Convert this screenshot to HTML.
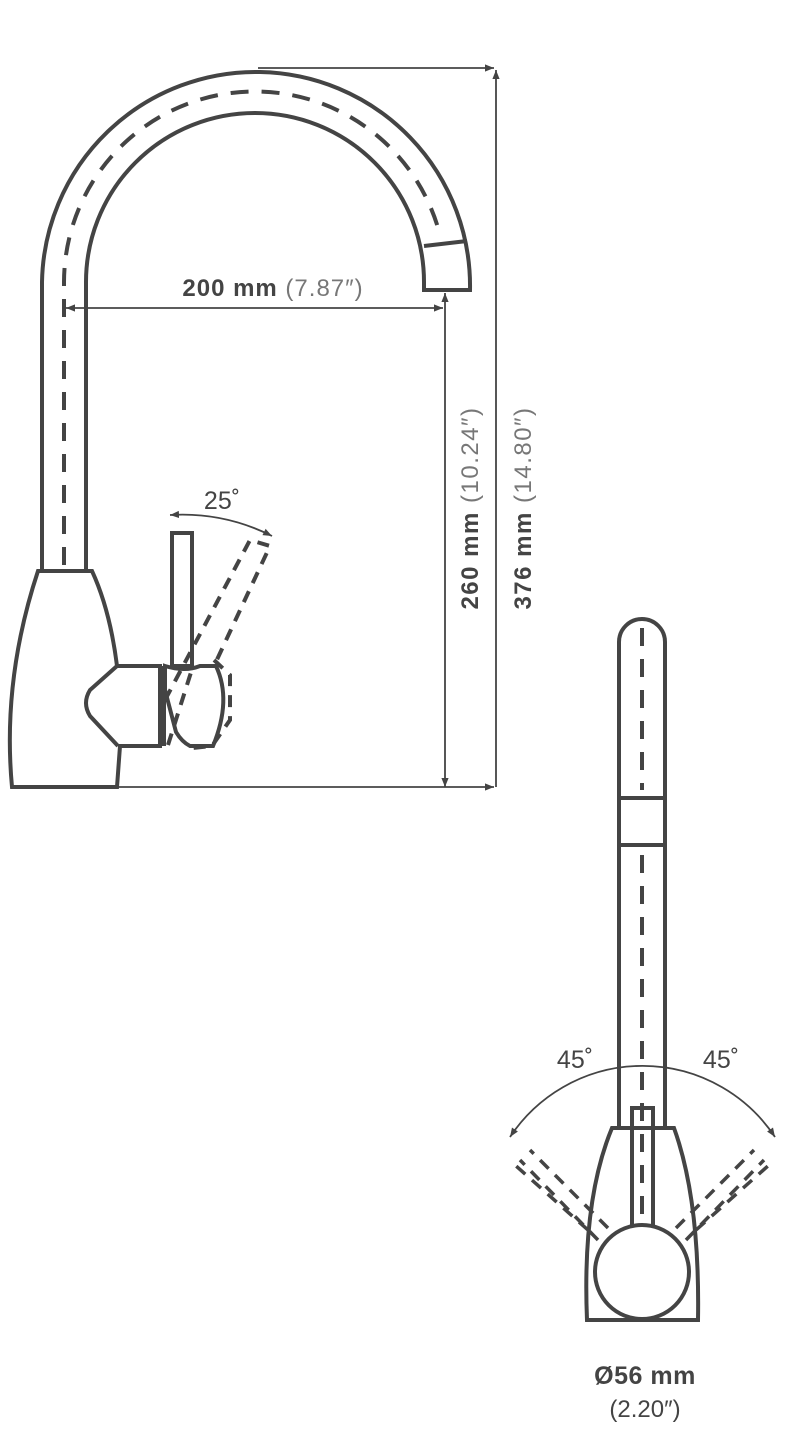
<!DOCTYPE html>
<html><head><meta charset="utf-8"><style>
html,body{margin:0;padding:0;background:#fff;}
svg{display:block;}
text{font-family:"Liberation Sans",sans-serif;fill:#444;}
</style></head><body>
<svg width="800" height="1436" viewBox="0 0 800 1436" xmlns="http://www.w3.org/2000/svg">
<defs>
<marker id="a" viewBox="0 0 10 10" refX="10" refY="5" markerWidth="9" markerHeight="9" orient="auto-start-reverse" markerUnits="userSpaceOnUse"><path d="M0,1 L10,5 L0,9 z" fill="#444"/></marker>
</defs>
<g fill="none" stroke="#444" stroke-width="4">
<path d="M42,570 L42,282 A214,214 0 0 1 470,290 L424,290 L424,282 A169,169 0 0 0 86,282 L86,570"/>
<line x1="424" y1="246" x2="467" y2="241"/>
<path d="M64,565 L64,282 A191,191 0 0 1 440,235" stroke-dasharray="18,13"/>
<path d="M38,571 L92,571 Q110,610 117,666 L160,666 L160,746 L120,746 L117,787 L12,787 Q2,680 38,571 Z"/>
<path d="M117,666 L90,690 Q82,703 90,716 L118,746"/>
<rect x="172" y="533" width="20" height="133"/>
<path d="M165,666 Q185,672 200,666 L216,666 Q232,700 213,746 L190,746 Q182,742 176,732 L165,690 Z"/>
<path d="M164,666 L164,746" />
<g stroke-dasharray="12,9">
<path d="M168,745 L193,666"/>
<path d="M165,700 L250,540 L270,546 L214,666"/>
<path d="M214,660 L230,675 L230,720 L212,746 L192,748"/>
</g>
</g>
<g stroke="#444" stroke-width="1.8" fill="none">
<line x1="258" y1="68" x2="494" y2="68" marker-end="url(#a)"/>
<line x1="496" y1="787" x2="496" y2="70" marker-end="url(#a)"/>
<line x1="118" y1="787" x2="494" y2="787" marker-end="url(#a)"/>
<line x1="445" y1="787" x2="445" y2="293" marker-end="url(#a)" marker-start="url(#a)"/>
<line x1="66" y1="308" x2="443" y2="308" marker-end="url(#a)" marker-start="url(#a)"/>
<path d="M170,515 A200,200 0 0 1 272,536" marker-end="url(#a)" marker-start="url(#a)"/>
<path d="M510,1137 A159,159 0 0 1 775,1137" marker-end="url(#a)" marker-start="url(#a)"/>
</g>
<text x="273" y="296" font-size="24" letter-spacing="1" text-anchor="middle"><tspan font-weight="bold">200 mm</tspan><tspan fill="#777" font-weight="normal"> (7.87″)</tspan></text>
<text transform="translate(478,508) rotate(-90)" font-size="24" letter-spacing="1.5" text-anchor="middle"><tspan font-weight="bold">260 mm</tspan><tspan fill="#777"> (10.24″)</tspan></text>
<text transform="translate(531,508) rotate(-90)" font-size="24" letter-spacing="1.5" text-anchor="middle"><tspan font-weight="bold">376 mm</tspan><tspan fill="#777"> (14.80″)</tspan></text>
<text x="222" y="509" font-size="25" text-anchor="middle">25˚</text>
<text x="575" y="1068" font-size="25" text-anchor="middle">45˚</text>
<text x="721" y="1068" font-size="25" text-anchor="middle">45˚</text>
<g fill="none" stroke="#444" stroke-width="4">
<path d="M619,1128 L619,642 A23,23 0 0 1 665,642 L665,1128"/>
<line x1="619" y1="798" x2="665" y2="798"/>
<line x1="619" y1="845" x2="665" y2="845"/>
<line x1="642" y1="628" x2="642" y2="790" stroke-dasharray="18,13"/>
<line x1="642" y1="855" x2="642" y2="1220" stroke-dasharray="18,13"/>
<path d="M612,1128 L674,1128 Q700,1200 698,1320 L587,1320 Q582,1200 612,1128 Z"/>
<rect x="632" y="1108" width="21" height="120"/>
<circle cx="642" cy="1272" r="47" fill="#fff"/>
<g stroke-dasharray="12,9" stroke-width="3.5">
<line x1="598" y1="1240" x2="520" y2="1160"/>
<line x1="608" y1="1228" x2="530" y2="1150"/>
<line x1="588" y1="1230" x2="515" y2="1165"/>
<line x1="686" y1="1240" x2="764" y2="1160"/>
<line x1="676" y1="1228" x2="754" y2="1150"/>
<line x1="696" y1="1230" x2="769" y2="1165"/>
</g>
</g>
<text x="645" y="1384" font-size="25" letter-spacing="0.5" text-anchor="middle" font-weight="bold">Ø56 mm</text>
<text x="645" y="1417" font-size="24" text-anchor="middle" fill="#777">(2.20″)</text>
</svg>
</body></html>
